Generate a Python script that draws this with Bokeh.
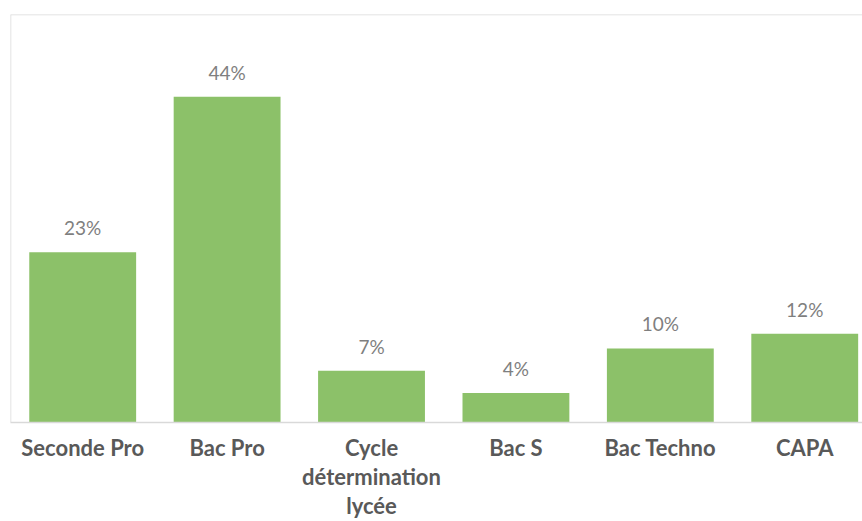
from bokeh.plotting import figure
from bokeh.models import ColumnDataSource, LabelSet, Range1d, FixedTicker, Span
from bokeh.core.properties import value
from bokeh.embed import file_html
from bokeh.resources import INLINE

categories = ["Seconde Pro", "Bac Pro", "Cycle\ndétermination\nlycée", "Bac S", "Bac Techno", "CAPA"]
values = [23, 44, 7, 4, 10, 12]
labels = [f"{v}%" for v in values]

xs = list(range(len(categories)))
src = ColumnDataSource(dict(x=xs, top=values, lab=labels))

Y_MAX = 55.1
p = figure(width=862, height=521, output_backend="svg", toolbar_location=None,
           x_range=Range1d(-0.5, 5.40), y_range=Range1d(0, Y_MAX),
           min_border_left=10, min_border_right=0, min_border_top=14, min_border_bottom=90)
p.outline_line_color = None
p.background_fill_color = "white"
p.border_fill_color = "white"

p.vbar(x="x", top="top", bottom=0, width=0.74, source=src,
       fill_color="#8CC169", line_color=None)

p.add_layout(LabelSet(x="x", y="top", text="lab", source=src, y_offset=17,
                      text_align="center", text_baseline="alphabetic",
                      text_font=value("Lato"), text_font_size=value("19px"),
                      text_color=value("#7F7F7F")))

# left and top borders of plot area
p.add_layout(Span(location=-0.5, dimension="height", line_color="#D9D9D9", line_width=1.5))
p.add_layout(Span(location=Y_MAX, dimension="width", line_color="#D9D9D9", line_width=1.5))

p.yaxis.visible = False
p.grid.visible = False
ax = p.xaxis[0]
ax.ticker = FixedTicker(ticks=xs)
ax.major_label_overrides = {i: c for i, c in zip(xs, categories)}
ax.major_tick_line_color = None
ax.minor_tick_line_color = None
ax.major_tick_out = 0
ax.major_tick_in = 0
ax.axis_line_color = "#D9D9D9"
ax.axis_line_width = 1.5
ax.major_label_standoff = 11
ax.major_label_text_font = "Lato"
ax.major_label_text_font_style = "bold"
ax.major_label_text_font_size = "22px"
ax.major_label_text_color = "#595959"
ax.major_label_text_line_height = 1.08

open("out.html", "w").write(file_html(p, INLINE))
